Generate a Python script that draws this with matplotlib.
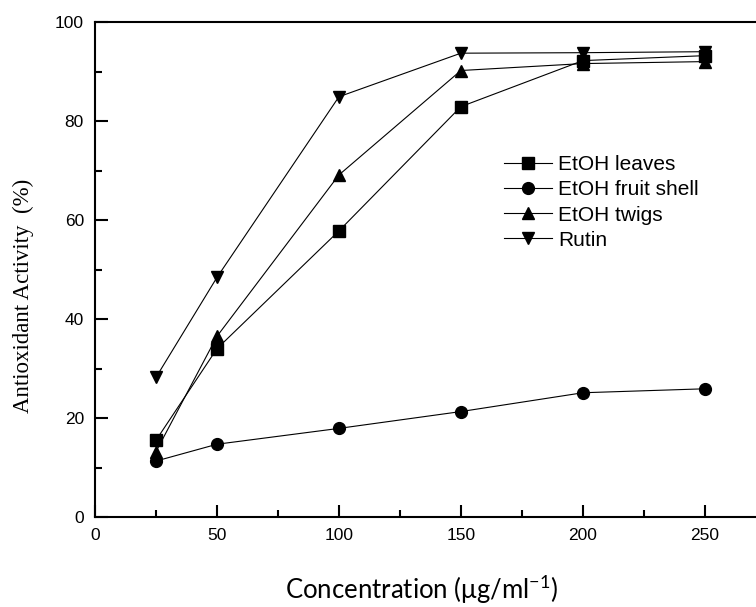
import numpy as np
import matplotlib.pyplot as plt
from matplotlib.ticker import MultipleLocator

conc = [25, 50, 100, 150, 200, 250]
leaves = [15.5, 34.0, 57.8, 82.9, 92.2, 93.2]
fruit_shell = [11.3, 14.7, 17.9, 21.3, 25.1, 25.9]
twigs = [13.2, 36.5, 69.1, 90.2, 91.6, 92.0]
rutin = [28.2, 48.4, 84.9, 93.7, 93.8, 94.0]

plt.rcParams['mathtext.default'] = 'regular'

W, H = 756, 607
fig = plt.figure(figsize=(W / 100, H / 100), dpi=100)
# right side of the axes runs past the figure edge, as in the cropped original
ax = fig.add_axes([95 / W, 1 - 517 / H, 683 / W, 495 / H])

line_kw = dict(color='black', lw=0.8, markersize=8.5)
ax.plot(conc, leaves, marker='s', label='EtOH leaves', **line_kw)
ax.plot(conc, fruit_shell, marker='o', label='EtOH fruit shell', **line_kw)
ax.plot(conc, twigs, marker='^', label='EtOH twigs', **line_kw)
ax.plot(conc, rutin, marker='v', label='Rutin', **line_kw)

ax.set_xlim(0, 280)
ax.set_ylim(0, 100)
ax.xaxis.set_major_locator(MultipleLocator(50))
ax.xaxis.set_minor_locator(MultipleLocator(25))
ax.yaxis.set_major_locator(MultipleLocator(20))
ax.yaxis.set_minor_locator(MultipleLocator(10))
ax.tick_params(which='both', direction='in', width=1.5, labelsize=12.5,
               top=False, right=False)
ax.tick_params(which='major', length=9, pad=8)
ax.tick_params(which='minor', length=5)
for lab in ax.get_xticklabels() + ax.get_yticklabels():
    lab.set_family('Liberation Sans')
for s in ax.spines.values():
    s.set_linewidth(1.5)

fig.text(23 / W, 1 - 296 / H, 'Antioxidant Activity  (%)', rotation=90,
         ha='center', va='center', family='Liberation Serif', fontsize=16.5)
fig.text(421 / W, 1 - 590 / H, 'Concentration (\u03bcg/ml$^{-1}$)',
         ha='center', va='center', family='Lato', fontsize=18.5)

ax.legend(loc='upper left', bbox_to_anchor=(504 / W, 1 - 155 / H),
          bbox_transform=fig.transFigure, frameon=False,
          handlelength=2.3, handletextpad=0.3, labelspacing=0.3,
          borderpad=0, borderaxespad=0, prop={'family': 'Liberation Sans', 'size': 15})

fig.savefig('out.png', dpi=100)
